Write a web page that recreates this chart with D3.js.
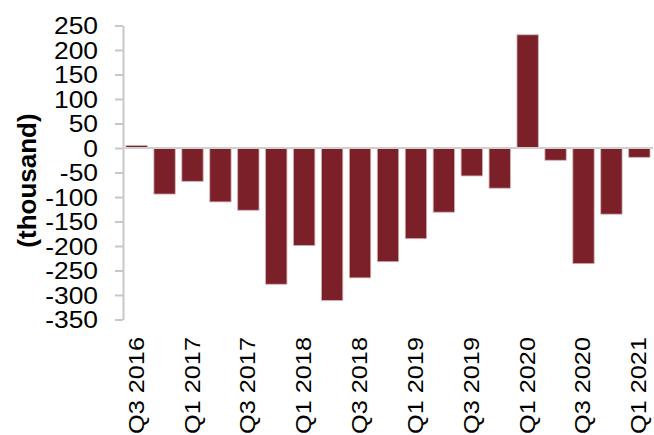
<!DOCTYPE html>
<html>
<head>
<meta charset="utf-8">
<script src="https://cdn.jsdelivr.net/npm/d3@7"></script>
<style>
  html, body { margin: 0; padding: 0; background: #fff; }
  svg { display: block; }
  text { font-family: "Liberation Sans", Arial, sans-serif; fill: #000; }
</style>
</head>
<body>
<script>
const quarters = ["Q3 2016","Q4 2016","Q1 2017","Q2 2017","Q3 2017","Q4 2017","Q1 2018","Q2 2018","Q3 2018","Q4 2018","Q1 2019","Q2 2019","Q3 2019","Q4 2019","Q1 2020","Q2 2020","Q3 2020","Q4 2020","Q1 2021"];
const values = [5, -94, -68, -110, -127, -278, -199, -311, -265, -232, -185, -131, -57, -82, 231, -25, -236, -135, -19];
const yTicks = [250, 200, 150, 100, 50, 0, -50, -100, -150, -200, -250, -300, -350];
const xLabels = ["Q3 2016","Q1 2017","Q3 2017","Q1 2018","Q3 2018","Q1 2019","Q3 2019","Q1 2020","Q3 2020","Q1 2021"];
const yTitle = "(thousand)";

const W = 654, H = 435;
const svg = d3.select("body").append("svg").attr("width", W).attr("height", H);

const x = d3.scaleBand().domain(quarters).range([123, 653]).paddingInner(0.237).paddingOuter(0.107);
const y = d3.scaleLinear().domain([-350, 250]).range([319.5, 25.5]);

// y axis
const yAxis = svg.append("g").attr("transform", "translate(123,0)")
  .call(d3.axisLeft(y).tickValues(yTicks).tickSize(8).tickSizeOuter(0).tickFormat(d => String(d)));
yAxis.select(".domain").attr("stroke", "#c8c8c8").attr("stroke-width", 2);
yAxis.selectAll(".tick line").attr("stroke", "#c8c8c8").attr("stroke-width", 2);
yAxis.selectAll(".tick text")
  .attr("x", null).attr("dy", null)
  .attr("text-anchor", "end")
  .attr("transform", "translate(-25,8.3) scale(1.1,1)")
  .style("font-size", "24px")
  .style("font-family", "'Liberation Sans', Arial, sans-serif")
  .attr("fill", "#000");

// bars
svg.append("g").selectAll("rect").data(values).join("rect")
  .attr("x", (d, i) => x(quarters[i]))
  .attr("width", x.bandwidth())
  .attr("y", d => y(Math.max(0, d)))
  .attr("height", d => Math.abs(y(d) - y(0)))
  .attr("fill", "#7b2029")
  .attr("stroke", "#d2aeb1")
  .attr("stroke-width", 0.8);

// zero line
svg.append("line")
  .attr("x1", 123).attr("x2", 653)
  .attr("y1", y(0)).attr("y2", y(0))
  .attr("stroke", "#d0d0d0").attr("stroke-width", 2);

// x labels
svg.append("g").selectAll("text").data(xLabels).join("text")
  .attr("text-anchor", "end")
  .attr("transform", d => `translate(${x(d) + x.bandwidth() / 2 + 7},337) rotate(-90) scale(1.15,1)`)
  .style("font-size", "22px")
  .text(d => d);

// y title
svg.append("text")
  .attr("text-anchor", "middle")
  .attr("transform", "translate(36,180.5) rotate(-90) scale(1.04,1)")
  .style("font-size", "25px")
  .style("font-weight", "bold")
  .text(yTitle);
</script>
</body>
</html>
